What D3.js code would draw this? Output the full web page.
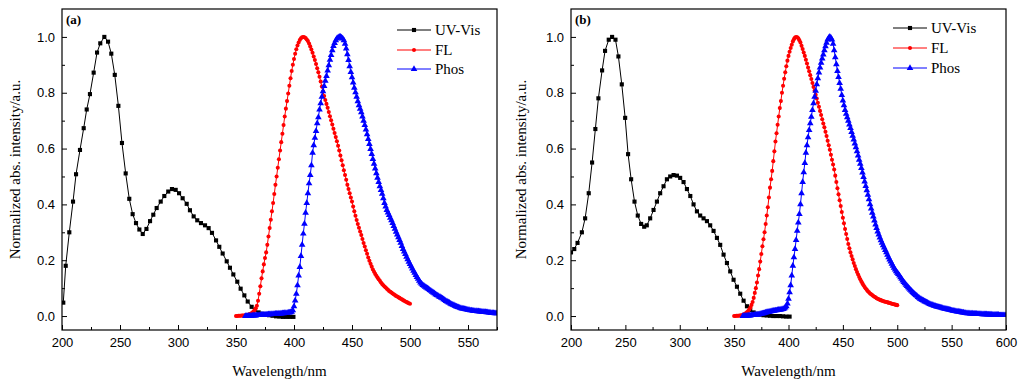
<!DOCTYPE html>
<html><head><meta charset="utf-8">
<script src="https://cdn.jsdelivr.net/npm/d3@7/dist/d3.min.js"></script>
<style>
html,body{margin:0;padding:0;background:#fff;}
svg{display:block;}
.tick text{font-family:"Liberation Sans",Arial,sans-serif;font-size:13px;fill:#000;}
</style></head><body>
<svg id="chart" width="1024" height="389"></svg>
<script>
// ---------------- DATA ----------------
const xTicksA = [200,250,300,350,400,450,500,550];
const xTicksB = [200,250,300,350,400,450,500,550,600];
const yTicks = [0.0,0.2,0.4,0.6,0.8,1.0];
const seriesNames = ["UV-Vis","FL","Phos"];

// Panel (a)
const uvA_x = [201.1,203.2,206.3,209.5,212.1,215.5,218.7,221.3,224.1,227.3,230.2,233,236.5,239.7,242.5,245.5,248.6,251.7,254.9,258,260.9,263.8,266.7,269.6,272.8,275.9,278.7,281.6,285.1,288.2,291.6,294.8,298,300.9,304,307.5,310.3,313.5,316.6,319.8,323.3,326.4,329.3,332.8,335.6,338.5,342,344.8,347.7,351.1,354,357.2,360.1,363.5,366.4,369.5,372.5,375.5,378.5,381.5,384.5,387.5,390.5,393.5,396.5,399.5];
const uvA_y = [0.048,0.18,0.30,0.41,0.508,0.595,0.673,0.74,0.795,0.872,0.944,0.977,1.0,0.983,0.94,0.864,0.753,0.62,0.511,0.42,0.365,0.333,0.31,0.294,0.312,0.34,0.363,0.387,0.41,0.43,0.446,0.455,0.452,0.44,0.422,0.402,0.379,0.357,0.343,0.333,0.325,0.315,0.298,0.271,0.248,0.224,0.196,0.173,0.149,0.123,0.098,0.074,0.052,0.033,0.021,0.013,0.008,0.005,0.003,0.001,-0.001,-0.002,-0.003,-0.003,-0.003,-0.003];

const flA_start = 350; // 1 nm steps
const flA_y = [
0.000,0.000,0.001,0.001,0.001,0.002,0.002,0.002,0.003,0.003,
0.004,0.005,0.007,0.009,0.012,0.016,0.021,0.028,0.037,0.055,
0.080,0.107,0.135,0.160,0.185,0.208,0.228,0.255,0.285,0.315,
0.345,0.375,0.405,0.437,0.470,0.500,0.531,0.562,0.593,0.623,
0.653,0.684,0.715,0.743,0.770,0.797,0.825,0.852,0.878,0.900,
0.921,0.940,0.956,0.969,0.980,0.989,0.995,0.999,1.000,0.999,
0.996,0.991,0.985,0.976,0.966,0.955,0.943,0.930,0.917,0.903,
0.888,0.873,0.857,0.840,0.822,0.804,0.788,0.774,0.760,0.746,
0.731,0.716,0.701,0.686,0.671,0.656,0.641,0.626,0.610,0.593,
0.575,0.558,0.540,0.522,0.505,0.488,0.470,0.455,0.440,0.425,
0.410,0.392,0.375,0.359,0.344,0.330,0.316,0.303,0.290,0.276,
0.262,0.249,0.236,0.223,0.210,0.198,0.187,0.177,0.167,0.159,
0.151,0.144,0.138,0.132,0.126,0.120,0.115,0.110,0.106,0.102,
0.098,0.094,0.090,0.087,0.084,0.081,0.078,0.075,0.072,0.070,
0.067,0.065,0.062,0.060,0.057,0.055,0.052,0.050,0.048,0.046,
0.044];

const phA_start = 358; // 1 nm steps
const phA_y = [
0.000,0.000,
0.000,0.001,0.001,0.001,0.002,0.002,0.002,0.002,0.003,0.003,
0.003,0.003,0.004,0.004,0.004,0.005,0.005,0.005,0.006,0.006,
0.006,0.007,0.007,0.007,0.008,0.008,0.008,0.009,0.009,0.009,
0.010,0.010,0.011,0.011,0.011,0.012,0.012,0.013,0.015,0.020,
0.035,0.055,0.080,0.110,0.145,0.175,0.215,0.255,0.295,0.330,
0.370,0.405,0.440,0.475,0.505,0.540,0.585,0.612,0.638,0.663,
0.690,0.712,0.740,0.762,0.785,0.805,0.824,0.843,0.860,0.879,
0.898,0.918,0.935,0.952,0.967,0.978,0.988,0.994,0.998,1.000,
1.000,0.998,0.994,0.988,0.975,0.958,0.938,0.917,0.895,0.874,
0.855,0.836,0.818,0.801,0.785,0.769,0.755,0.742,0.730,0.715,
0.699,0.684,0.668,0.651,0.634,0.616,0.598,0.580,0.562,0.545,
0.528,0.511,0.495,0.480,0.465,0.451,0.438,0.422,0.405,0.392,
0.380,0.371,0.362,0.352,0.343,0.333,0.322,0.312,0.302,0.292,
0.282,0.272,0.262,0.251,0.240,0.231,0.222,0.212,0.203,0.194,
0.186,0.178,0.170,0.162,0.155,0.147,0.140,0.133,0.126,0.120,
0.115,0.111,0.108,0.105,0.102,0.099,0.097,0.093,0.090,0.087,
0.084,0.081,0.078,0.075,0.073,0.070,0.068,0.065,0.063,0.060,
0.057,0.054,0.052,0.049,0.047,0.044,0.042,0.040,0.038,0.036,
0.034,0.032,0.031,0.029,0.028,0.027,0.026,0.025,0.024,0.023,
0.022,0.021,0.020,0.020,0.019,0.019,0.018,0.018,0.017,0.017,
0.016,0.016,0.015,0.015,0.014,0.014,0.013,0.013,0.012,0.012,
0.011,0.011,0.011,0.010,0.010,0.010];

// Panel (b)
const uvB_x = [200,203,206,210,213,216.3,219.4,222.4,225.2,228.6,231.3,234.7,237.8,240.9,243.6,246.7,249.8,252.5,255.3,258.4,261.4,264.5,267.3,269.7,272.8,275.9,279,282,285.1,288.2,291.2,294.3,297.4,300.4,303.5,306.6,309.7,312.7,315.8,318.8,321.9,325,328,331.1,334.2,337.2,340.3,343.4,346.4,349.5,352.6,355.6,358.7,361.8,364.8,367.9,371,374,377,380,383,386,389,392,395,398,401];
const uvB_y = [0.228,0.24,0.262,0.30,0.35,0.44,0.55,0.67,0.78,0.88,0.95,0.99,1.0,0.99,0.93,0.83,0.71,0.58,0.49,0.41,0.36,0.33,0.32,0.325,0.35,0.38,0.41,0.44,0.465,0.49,0.50,0.505,0.503,0.495,0.48,0.455,0.43,0.40,0.375,0.36,0.35,0.34,0.325,0.305,0.28,0.255,0.22,0.19,0.16,0.13,0.105,0.08,0.055,0.035,0.022,0.013,0.008,0.005,0.003,0.002,0.001,0.0,0.0,0.0,-0.001,-0.002,-0.002];

const flB_start = 350; // 1 nm steps
const flB_y = [
0.000,0.000,0.001,0.001,0.001,0.002,0.002,0.003,0.004,0.006,
0.008,0.011,0.014,0.018,0.024,0.031,0.040,0.050,0.065,0.083,
0.100,0.120,0.145,0.168,0.195,0.222,0.250,0.275,0.300,0.330,
0.360,0.390,0.425,0.460,0.490,0.520,0.555,0.590,0.625,0.655,
0.685,0.715,0.745,0.770,0.800,0.825,0.850,0.873,0.895,0.915,
0.932,0.947,0.960,0.972,0.984,0.992,0.998,1.000,0.999,0.995,
0.988,0.980,0.968,0.957,0.944,0.932,0.918,0.905,0.890,0.877,
0.863,0.849,0.835,0.821,0.807,0.793,0.779,0.764,0.750,0.735,
0.720,0.705,0.690,0.676,0.660,0.645,0.628,0.612,0.596,0.578,
0.560,0.543,0.525,0.503,0.480,0.458,0.436,0.415,0.394,0.373,
0.352,0.332,0.312,0.294,0.276,0.258,0.243,0.228,0.215,0.203,
0.190,0.179,0.168,0.158,0.149,0.140,0.132,0.124,0.117,0.110,
0.104,0.099,0.094,0.089,0.085,0.081,0.078,0.075,0.072,0.069,
0.067,0.064,0.062,0.060,0.058,0.057,0.055,0.054,0.052,0.051,
0.050,0.049,0.048,0.047,0.046,0.044,0.043,0.042,0.041,0.040,
0.039];

const phB_start = 358; // 1 nm steps
const phB_y = [
0.000,0.000,
0.001,0.001,0.001,0.002,0.002,0.002,0.003,0.003,0.003,0.004,
0.004,0.005,0.005,0.006,0.007,0.008,0.009,0.010,0.011,0.012,
0.013,0.014,0.015,0.016,0.017,0.018,0.019,0.019,0.020,0.020,
0.021,0.022,0.022,0.023,0.024,0.025,0.027,0.030,0.035,0.045,
0.062,0.085,0.110,0.145,0.180,0.210,0.240,0.272,0.305,0.335,
0.365,0.400,0.440,0.480,0.515,0.548,0.585,0.612,0.640,0.666,
0.690,0.714,0.738,0.762,0.785,0.807,0.830,0.852,0.872,0.890,
0.907,0.922,0.937,0.952,0.966,0.979,0.990,0.997,1.000,0.997,
0.990,0.975,0.952,0.927,0.902,0.878,0.856,0.835,0.814,0.792,
0.772,0.755,0.738,0.724,0.712,0.699,0.686,0.673,0.659,0.646,
0.632,0.618,0.604,0.590,0.575,0.560,0.545,0.530,0.514,0.498,
0.482,0.466,0.450,0.434,0.418,0.400,0.385,0.370,0.356,0.342,
0.328,0.315,0.303,0.292,0.281,0.271,0.262,0.253,0.245,0.236,
0.228,0.219,0.210,0.202,0.195,0.187,0.180,0.173,0.166,0.160,
0.155,0.150,0.145,0.139,0.133,0.127,0.122,0.117,0.112,0.107,
0.103,0.098,0.094,0.090,0.086,0.082,0.079,0.075,0.072,0.068,
0.065,0.062,0.060,0.057,0.055,0.053,0.051,0.049,0.047,0.045,
0.043,0.041,0.040,0.038,0.037,0.036,0.034,0.033,0.032,0.031,
0.030,0.029,0.028,0.027,0.026,0.025,0.024,0.023,0.022,0.021,
0.020,0.019,0.019,0.018,0.017,0.016,0.016,0.015,0.014,0.013,
0.012,0.012,0.011,0.011,0.010,0.010,0.010,0.009,0.009,0.009,
0.008,0.008,0.008,0.008,0.007,0.007,0.007,0.007,0.006,0.006,
0.006,0.006,0.006,0.005,0.005,0.005,0.005,0.005,0.004,0.004,
0.004,0.004,0.004,0.004,0.003,0.003,0.003,0.003,0.003,0.003,
0.003];

// ---------------- DRAW ----------------
const svg = d3.select("#chart");
const serif = '"Liberation Serif","Times New Roman",serif';
const colors = {"UV-Vis":"#000000","FL":"#ff0000","Phos":"#0000ff"};
const symbols = {"UV-Vis":d3.symbolSquare,"FL":d3.symbolCircle,"Phos":d3.symbolTriangle};
const symSize = {"UV-Vis":17,"FL":13,"Phos":19};

function grid(start, arr){ return arr.map((v,i)=>[start+i, v]); }
function pairs(xs, ys){ return xs.map((x,i)=>[x, ys[i]]); }

const panels = [
  {label:"(a)", left:62, right:497, top:9, bottom:330, xDom:[200,575], xTicks:xTicksA,
   legendX:397, legendY:[30,50,69], titleX:15,
   data:{"UV-Vis":pairs(uvA_x,uvA_y),"FL":grid(flA_start,flA_y),"Phos":grid(phA_start,phA_y)}},
  {label:"(b)", left:571, right:1006, top:9, bottom:330, xDom:[200,600], xTicks:xTicksB,
   legendX:893, legendY:[28,48,68], titleX:521,
   data:{"UV-Vis":pairs(uvB_x,uvB_y),"FL":grid(flB_start,flB_y),"Phos":grid(phB_start,phB_y)}}
];

panels.forEach((p,pi)=>{
  const x = d3.scaleLinear().domain(p.xDom).range([p.left,p.right]);
  const y = d3.scaleLinear().domain([-0.05,1.1]).range([p.bottom,p.top]);
  const g = svg.append("g");

  const clipId = "clip"+pi;
  svg.append("clipPath").attr("id",clipId).append("rect")
    .attr("x",p.left).attr("y",p.top).attr("width",p.right-p.left).attr("height",p.bottom-p.top);

  // minor ticks
  const xMinor = d3.range(p.xDom[0]+25, p.xDom[1]+1, 50);
  g.append("g").attr("transform",`translate(0,${p.bottom})`)
    .call(d3.axisBottom(x).tickValues(xMinor).tickSize(-3).tickFormat(""))
    .call(a=>a.select(".domain").remove());
  g.append("g").attr("transform",`translate(${p.left},0)`)
    .call(d3.axisLeft(y).tickValues([0.1,0.3,0.5,0.7,0.9]).tickSize(-3).tickFormat(""))
    .call(a=>a.select(".domain").remove());
  // major ticks
  g.append("g").attr("transform",`translate(0,${p.bottom})`)
    .call(d3.axisBottom(x).tickValues(p.xTicks).tickSize(-5).tickPadding(8).tickFormat(d3.format("d")))
    .call(a=>a.select(".domain").remove());
  g.append("g").attr("transform",`translate(${p.left},0)`)
    .call(d3.axisLeft(y).tickValues(yTicks).tickSize(-5).tickPadding(7).tickFormat(d3.format(".1f")))
    .call(a=>a.select(".domain").remove());
  g.selectAll(".tick line").attr("stroke","#000").attr("stroke-width",1);

  // series
  const plot = g.append("g").attr("clip-path",`url(#${clipId})`);
  seriesNames.forEach(name=>{
    const d = p.data[name];
    plot.append("path").datum(d)
      .attr("fill","none").attr("stroke",colors[name]).attr("stroke-width",1)
      .attr("d", d3.line().x(v=>x(v[0])).y(v=>y(v[1])));
    plot.append("g").selectAll("path").data(d).join("path")
      .attr("transform",v=>`translate(${x(v[0])},${y(v[1])})`)
      .attr("d", d3.symbol().type(symbols[name]).size(symSize[name]))
      .attr("fill",colors[name]);
  });

  // frame
  g.append("rect").attr("x",p.left).attr("y",p.top)
    .attr("width",p.right-p.left).attr("height",p.bottom-p.top)
    .attr("fill","none").attr("stroke","#000").attr("stroke-width",1.2);

  // panel label
  g.append("text").attr("x",p.left+4).attr("y",p.top+15)
    .attr("font-family",serif).attr("font-weight","bold").attr("font-size",13)
    .text(p.label);

  // legend
  seriesNames.forEach((name,i)=>{
    const ly = p.legendY[i];
    g.append("line").attr("x1",p.legendX).attr("x2",p.legendX+34)
      .attr("y1",ly).attr("y2",ly).attr("stroke",colors[name]).attr("stroke-width",1);
    g.append("path").attr("transform",`translate(${p.legendX+17},${ly})`)
      .attr("d",d3.symbol().type(symbols[name]).size(symSize[name])).attr("fill",colors[name]);
    g.append("text").attr("x",p.legendX+38).attr("y",ly+5)
      .attr("font-family",serif).attr("font-size",15).text(name);
  });

  // axis titles
  g.append("text").attr("x",(p.left+p.right)/2).attr("y",376)
    .attr("text-anchor","middle").attr("font-family",serif).attr("font-size",15)
    .text("Wavelength/nm");
  g.append("text")
    .attr("transform",`translate(${p.titleX},${(p.top+p.bottom)/2}) rotate(-90)`)
    .attr("text-anchor","middle").attr("dominant-baseline","central")
    .attr("font-family",serif).attr("font-size",15)
    .text("Normalized abs. intensity/a.u.");
});
</script>
</body></html>
